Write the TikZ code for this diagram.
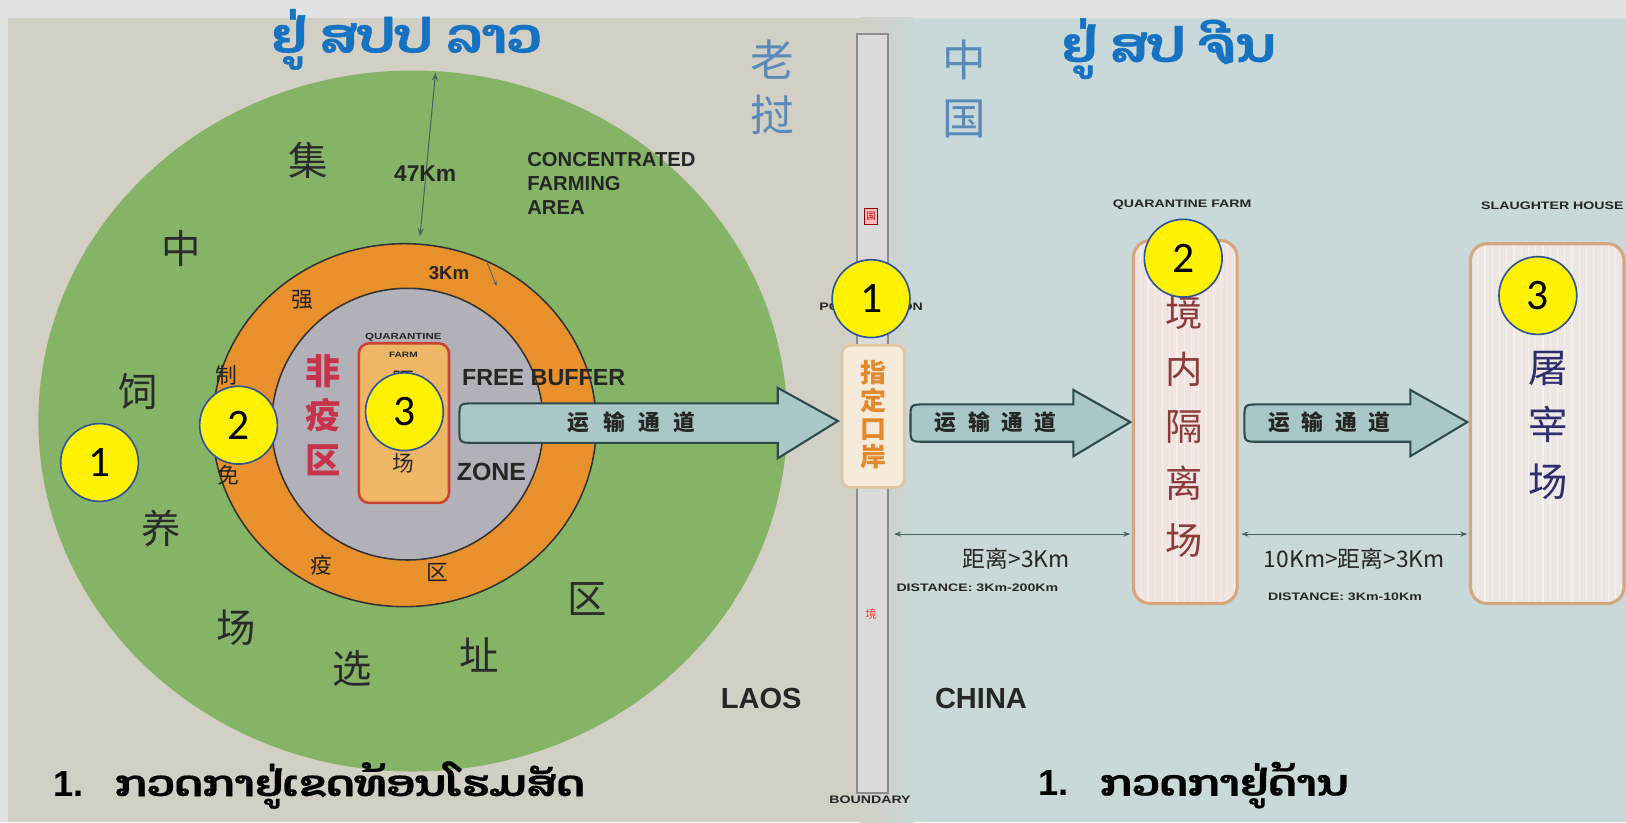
\documentclass[tikz,border=0pt]{standalone}
\usepackage{fontspec}
\setmainfont{Liberation Sans}
\newfontfamily\cjk{Noto Sans CJK SC}
\newfontfamily\laot[Script=Lao,FakeStretch=1.1,FakeBold=1]{Dhyana}
\newfontfamily\laob[Script=Lao,FakeStretch=1.18,FakeBold=0.5]{Dhyana}
\newfontfamily\widesans[FakeStretch=1.3]{Liberation Sans}
\newfontfamily\calib{Carlito}
\usetikzlibrary{arrows.meta}
\definecolor{bgGray}{HTML}{E2E2E2}
\definecolor{laoBg}{HTML}{D2CFC5}
\definecolor{cnBg}{HTML}{C9D8D8}
\definecolor{greenA}{HTML}{86B467}
\definecolor{orangeA}{HTML}{E8912C}
\definecolor{innerA}{HTML}{B2B1BA}
\definecolor{farmFill}{HTML}{EEB665}
\definecolor{farmDraw}{HTML}{C8452E}
\definecolor{arrFill}{HTML}{A8C7C6}
\definecolor{arrDraw}{HTML}{2F4A4A}
\definecolor{titleBlue}{HTML}{1673C2}
\definecolor{hanBlue}{HTML}{5A8BB8}
\definecolor{barFill}{HTML}{DADADA}
\definecolor{barDraw}{HTML}{8C8C8C}
\definecolor{portFill}{HTML}{F6EBDA}
\definecolor{portDraw}{HTML}{E0C6A0}
\definecolor{portText}{HTML}{E38A2E}
\definecolor{qFill}{HTML}{F1E3DF}
\definecolor{qDraw}{HTML}{D9A57C}
\definecolor{qText}{HTML}{8B3B3B}
\definecolor{sFill}{HTML}{ECE7E3}
\definecolor{sDraw}{HTML}{D2A883}
\definecolor{sText}{HTML}{2E2E6E}
\definecolor{redText}{HTML}{C8324A}
\definecolor{numBlue}{HTML}{2F5597}
\definecolor{hanC}{HTML}{2B2B2B}
\definecolor{distC}{HTML}{4A6464}
% #1 left x, #2 unused, #3 head base x, #4 tip x, #5 body top, #6 body bottom, #7 head top, #8 head bottom, #9 tip y
\newcommand\tarrow[9]{%
  \path[bigarr] (#3,#5) -- (#3,#7) -- (#4,#9) -- (#3,#8) -- (#3,#6) -- ({#1+14},#6)
    .. controls (#1,#6) .. ({#1},{#6-14}) -- ({#1},{#5+14})
    .. controls (#1,#5) .. ({#1+14},#5) -- cycle;}
% striped rounded box: #1 fill, #2 draw, #3 x1, #4 y1, #5 x2, #6 y2
\newcommand\stripebox[6]{%
  \fill[#1,rounded corners=16pt] (#3,#4) rectangle (#5,#6);
  \begin{scope}
    \clip[rounded corners=16pt] (#3,#4) rectangle (#5,#6);
    \foreach \sk in {0,...,22} \draw[white,opacity=0.45,line width=1.2pt] ({#3+7*\sk},#4) -- ({#3+7*\sk},#6);
  \end{scope}
  \draw[#2,rounded corners=16pt,line width=3pt] (#3,#4) rectangle (#5,#6);}
\begin{document}
\begin{tikzpicture}[x=1pt,y=-1pt,
  numc/.style={circle,minimum size=75pt,inner sep=0pt,fill=yellow,draw=numBlue,line width=1.6pt,
    font=\calib\fontsize{42}{42}\selectfont},
  bigarr/.style={fill=arrFill,draw=arrDraw,line width=2pt},
  ringhan/.style={font=\cjk\fontsize{38}{38}\selectfont,text=hanC},
  smallhan/.style={font=\cjk\fontsize{21}{21}\selectfont,text=hanC!80!black},
  tiny/.style={font=\widesans\bfseries\fontsize{10.5}{10.5}\selectfont,text=black!85},
  engl/.style={font=\bfseries\fontsize{18}{22}\selectfont,text=black!85},
  arrtext/.style={font=\cjk\bfseries\fontsize{21}{21}\selectfont,text=black!85},
  distline/.style={draw=distC,line width=1pt,{Stealth[length=7pt,width=5pt]}-{Stealth[length=7pt,width=5pt]}},
  laotitle/.style={font=\laot\bfseries\fontsize{47}{47}\selectfont,text=titleBlue},
  laobody/.style={font=\laob\bfseries\fontsize{35}{35}\selectfont,text=black,anchor=west}
]
\useasboundingbox (0,0) rectangle (1568,793);
% backgrounds
\fill[bgGray] (0,0) rectangle (1568,793);
\fill[laoBg] (8,17) rectangle (830,793);
\fill[cnBg] (880,17) rectangle (1568,793);
\shade[left color=laoBg,right color=cnBg] (829,17) rectangle (881,793);

% titles
\node[laotitle] (tl) at (391,38) {ຢູ່ ສປປ ລາວ};
\node[laotitle] (tr) at (1126,47) {ຢູ່ ສປ ຈີນ};

% rings
\fill[greenA] (398,406) ellipse [x radius=361,y radius=338];
\draw[fill=orangeA,draw=black!80,line width=1.5pt] (390,410) ellipse [x radius=185,y radius=175];
\draw[fill=innerA,draw=black!80,line width=1.5pt] (393,409) ellipse [x radius=131,y radius=131];

% 47Km arrow
\coordinate (k47a) at (420,70);
\coordinate (k47b) at (405,228);
\draw[draw=distC,line width=1pt,{Stealth[length=8pt,width=6pt]}-{Stealth[length=8pt,width=6pt]}] (k47a) -- (k47b);
\node[engl,font=\bfseries\fontsize{22}{22}\selectfont] (km47) at (410,167) {47Km};
\node[engl,align=left,anchor=west,font=\bfseries\fontsize{19.5}{23.5}\selectfont] (conc) at (505,177) {CONCENTRATED\\FARMING\\AREA};
% 3Km
\node[engl,font=\bfseries\fontsize{18}{18}\selectfont] (km3) at (433,263) {3Km};
\coordinate (k3a) at (470,254);
\coordinate (k3b) at (479,276);
\draw[draw=distC,line width=0.8pt,-{Stealth[length=5pt,width=4pt]}] (k3a) -- (k3b);

% concentrated farming ring characters
\node[ringhan] (c1) at (297,155) {集};
\node[ringhan] (c2) at (175,240) {中};
\node[ringhan] (c3) at (133,378) {饲};
\node[ringhan] (c4) at (155,510) {养};
\node[ringhan] (c5) at (228,605) {场};
\node[ringhan] (c6) at (340,645) {选};
\node[ringhan] (c7) at (462,632) {址};
\node[ringhan] (c8) at (566,578) {区};
% immunisation ring characters
\node[smallhan] (o1) at (292,289) {强};
\node[smallhan] (o2) at (218,362) {制};
\node[smallhan] (o3) at (220,458) {免};
\node[smallhan] (o4) at (310,545) {疫};
\node[smallhan] (o5) at (422,552) {区};
% free zone
\node[font=\cjk\bfseries\fontsize{34}{43}\selectfont,text=redText,align=center] (free) at (312,400) {非\\疫\\区};
\node[engl,anchor=west,font=\bfseries\fontsize{22.5}{22.5}\selectfont] (fb) at (442,364) {FREE BUFFER};
\node[engl,anchor=west,font=\bfseries\fontsize{24}{24}\selectfont] (zone) at (437,455) {ZONE};
% small quarantine farm
\draw[fill=farmFill,draw=farmDraw,line width=2.5pt,rounded corners=10pt] (346,331) rectangle (433,485);
\node[tiny,font=\widesans\bfseries\fontsize{8.5}{8.5}\selectfont] (qf1) at (389,325) {QUARANTINE};
\node[tiny,font=\widesans\bfseries\fontsize{7.5}{7.5}\selectfont] (qf2) at (389,342) {FARM};
\node[font=\cjk\fontsize{21}{40}\selectfont,text=hanC,align=center] (qfh) at (389,407) {隔\\离\\场};

% big transport arrow
\tarrow{443}{600}{750}{808}{389}{427}{374}{442}{406}
\node[arrtext] (t1) at (609,407) {运\hspace{13pt}输\hspace{13pt}通\hspace{13pt}道};

% country labels
\node[engl,font=\bfseries\fontsize{28}{28}\selectfont] (laos) at (734,674) {LAOS};
\node[engl,font=\bfseries\fontsize{28}{28}\selectfont] (china) at (946,674) {CHINA};
\node[font=\cjk\fontsize{42}{53}\selectfont,text=hanBlue,align=center] (laozh) at (745,84) {老\\挝};
\node[font=\cjk\fontsize{42}{56}\selectfont,text=hanBlue,align=center] (cnzh) at (930,86) {中\\国};

% boundary bar
\draw[fill=barFill,draw=barDraw,line width=2pt] (826,33) rectangle (856,765);
\draw[fill=red!25,draw=red!60!black,line width=0.8pt] (834,201) rectangle (846,216);
\node[font=\cjk\fontsize{9}{9}\selectfont,text=red!70!black] (guo) at (840,208.5) {国};
\node[font=\cjk\fontsize{11}{11}\selectfont,text=red!75] (jing) at (840,592) {境};
\node[tiny] (bnd) at (839,771) {BOUNDARY};
\node[tiny] (pst) at (840,296) {PORT STATION};

% port box
\draw[fill=portFill,draw=portDraw,line width=2.5pt,rounded corners=8pt] (812,333) rectangle (872,470);
\node[font=\cjk\bfseries\fontsize{25}{27}\selectfont,text=portText,align=center] (port) at (842,400) {指\\定\\口\\岸};

% right arrows
\tarrow{878}{950}{1035}{1090}{390}{426}{376}{440}{407}
\node[arrtext] (t2) at (960,407) {运\hspace{11pt}输\hspace{11pt}通\hspace{11pt}道};
\tarrow{1200}{1280}{1360}{1415}{390}{426}{376}{440}{407}
\node[arrtext] (t3) at (1282,407) {运\hspace{11pt}输\hspace{11pt}通\hspace{11pt}道};

% quarantine farm box
\stripebox{qFill}{qDraw}{1093}{232}{1193}{582}
\node[font=\cjk\fontsize{36}{55}\selectfont,text=qText,align=center] (qbox) at (1142,411) {境\\内\\隔\\离\\场};
\node[tiny] (qlab) at (1140,197) {QUARANTINE FARM};
% slaughter house box
\stripebox{sFill}{sDraw}{1418}{235}{1566}{582}
\node[font=\cjk\fontsize{38}{55}\selectfont,text=sText,align=center] (sbox) at (1493,410) {屠\\宰\\场};
\node[tiny] (slab) at (1497,198) {SLAUGHTER HOUSE};

% distances
\coordinate (d1a) at (862,515);
\coordinate (d1b) at (1090,515);
\coordinate (d2a) at (1197,515);
\coordinate (d2b) at (1415,515);
\draw[distline] (d1a) -- (d1b);
\draw[distline] (d2a) -- (d2b);
\node[font=\cjk\fontsize{22}{22}\selectfont,text=black!85] (dl1) at (980,539) {距离>3Km};
\node[tiny,anchor=west] (dd1) at (861,567) {DISTANCE: 3Km-200Km};
\node[font=\cjk\fontsize{22}{22}\selectfont,text=black!85] (dl2) at (1306,539) {10Km>距离>3Km};
\node[tiny] (dd2) at (1297,575) {DISTANCE: 3Km-10Km};

% bottom text
\node[laobody] (b1) at (48,757) {{\bfseries\fontspec{Liberation Sans}1.}\hspace{30pt}ກວດກາຢູ່ເຂດທ້ອນໂຮມສັດ};
\node[laobody] (b2) at (998,757) {{\bfseries\fontspec{Liberation Sans}1.}\hspace{30pt}ກວດກາຢູ່ດ້ານ};

% number markers
\node[numc] (n1) at (96,446) {1};
\node[numc] (n2) at (230,410) {2};
\node[numc] (n3) at (390,397) {3};
\node[numc] (m1) at (840,288) {1};
\node[numc] (m2) at (1141,249) {2};
\node[numc] (m3) at (1483,285) {3};
\end{tikzpicture}
\end{document}
